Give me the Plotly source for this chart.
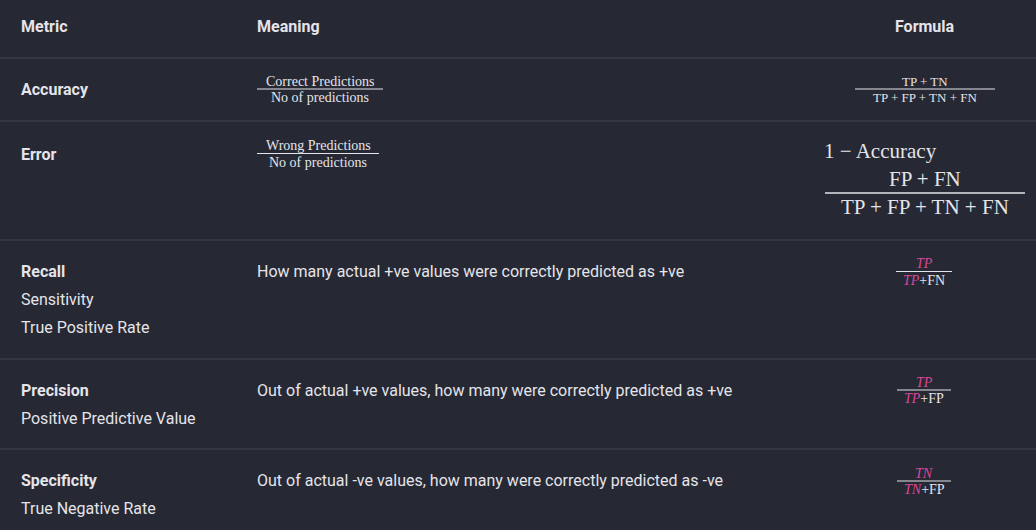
import plotly.graph_objects as go

BG = "#262833"
LINE = "#3b3d48"
TXT = "#e4e4ea"
PINK = "#d9479b"

headers = ["Metric", "Meaning", "Formula"]
row_edges = [58, 121, 240, 359, 449]
metric_names = ["Accuracy", "Error", "Recall", "Precision", "Specificity"]
metric_extra = [[], [], ["Sensitivity", "True Positive Rate"],
                ["Positive Predictive Value"], ["True Negative Rate"]]
name_y = [89, 154, 271, 390, 480]
meaning_text = [None, None,
                "How many actual +ve values were correctly predicted as +ve",
                "Out of actual +ve values, how many were correctly predicted as +ve",
                "Out of actual -ve values, how many were correctly predicted as -ve"]
# fractions in meaning column: (numerator, denominator, center x, num y, den y, half width)
meaning_frac = [("Correct Predictions", "No of predictions", 320, 81, 97, 63),
                ("Wrong Predictions", "No of predictions", 318, 145, 162, 61)]
# formula fractions
formula_frac = [
    ("TP + TN", "TP + FP + TN + FN", 925, 81, 97, 70, 13),
    ("FP + FN", "TP + FP + TN + FN", 925, 179, 207, 100, 21),
    (f"<i><span style='color:{PINK}'>TP</span></i>",
     f"<i><span style='color:{PINK}'>TP</span></i>+FN", 924, 263, 280, 28, 14),
    (f"<i><span style='color:{PINK}'>TP</span></i>",
     f"<i><span style='color:{PINK}'>TP</span></i>+FP", 924, 382, 398, 27, 14),
    (f"<i><span style='color:{PINK}'>TN</span></i>",
     f"<i><span style='color:{PINK}'>TN</span></i>+FP", 924, 473, 489, 27, 14),
]

SANS = "Roboto, Inter, sans-serif"
SERIF = "Liberation Serif, DejaVu Serif, serif"

fig = go.Figure()
ann = []
shapes = []

for yy in row_edges:
    shapes.append(dict(type="line", x0=0, x1=1036, y0=yy, y1=yy,
                       line=dict(color=LINE, width=1.5)))

ann.append(dict(x=19, y=26, text="<b>Metric</b>", xanchor="left", font=dict(size=16, family=SANS)))
ann.append(dict(x=255, y=26, text="<b>Meaning</b>", xanchor="left", font=dict(size=16, family=SANS)))
ann.append(dict(x=925, y=26, text="<b>Formula</b>", xanchor="center", font=dict(size=16, family=SANS)))

for name, extra, y, mt in zip(metric_names, metric_extra, name_y, meaning_text):
    ann.append(dict(x=19, y=y, text=f"<b>{name}</b>", xanchor="left", font=dict(size=16, family=SANS)))
    for i, e in enumerate(extra):
        ann.append(dict(x=19, y=y + 28 * (i + 1), text=e, xanchor="left", font=dict(size=16, family=SANS)))
    if mt:
        ann.append(dict(x=255, y=y, text=mt, xanchor="left", font=dict(size=16, family=SANS)))

for num, den, cx, ny, dy, hw in meaning_frac:
    ann.append(dict(x=cx, y=ny, text=num, font=dict(size=14, family=SERIF)))
    ann.append(dict(x=cx, y=dy, text=den, font=dict(size=14, family=SERIF)))
    shapes.append(dict(type="line", x0=cx - hw, x1=cx + hw, y0=(ny + dy) / 2, y1=(ny + dy) / 2,
                       line=dict(color=TXT, width=1)))

ann.append(dict(x=822, y=151, text="1 − Accuracy", xanchor="left", font=dict(size=21, family=SERIF)))

for num, den, cx, ny, dy, hw, fs in formula_frac:
    ann.append(dict(x=cx, y=ny, text=num, font=dict(size=fs, family=SERIF)))
    ann.append(dict(x=cx, y=dy, text=den, font=dict(size=fs, family=SERIF)))
    shapes.append(dict(type="line", x0=cx - hw, x1=cx + hw, y0=(ny + dy) / 2, y1=(ny + dy) / 2,
                       line=dict(color=TXT, width=1.5 if fs > 15 else 1)))

for a in ann:
    a.update(xref="x", yref="y", showarrow=False, yanchor="middle")
    a["font"]["color"] = TXT
    a.setdefault("xanchor", "center")

fig.update_layout(
    width=1036, height=530, margin=dict(l=0, r=0, t=0, b=0),
    paper_bgcolor=BG, plot_bgcolor=BG,
    xaxis=dict(range=[0, 1036], visible=False, fixedrange=True),
    yaxis=dict(range=[530, 0], visible=False, fixedrange=True),
    annotations=ann, shapes=shapes, showlegend=False,
)
fig.write_html("out.html", config={"displayModeBar": False},
               post_script="document.body.style.margin='0';document.body.style.background='%s';" % BG)
